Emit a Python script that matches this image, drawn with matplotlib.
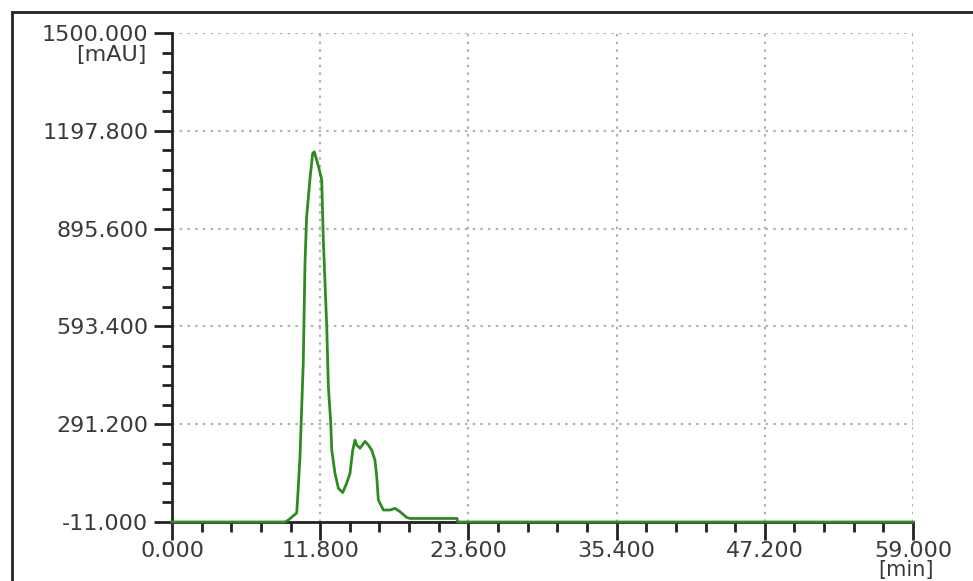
import numpy as np
import matplotlib.pyplot as plt
from matplotlib.patches import Rectangle
from matplotlib.ticker import MultipleLocator, FixedLocator

# retention time [min] and absorbance [mAU]
t = [0.0, 9.0, 9.26, 9.93, 10.0, 10.19, 10.45, 10.59, 10.72, 10.99, 11.2, 11.33, 11.52,
     11.73, 11.92, 12.05, 12.32, 12.45, 12.64, 12.72, 12.98, 13.25, 13.59, 13.91,
     14.17, 14.39, 14.57, 14.7, 14.97, 15.37, 15.63, 15.9, 16.16, 16.3, 16.43,
     16.83, 17.36, 17.75, 18.15, 18.69, 18.95, 22.7, 22.75, 59.0]
mau = [-11, -11, -5, 17, 60, 191, 479, 789, 932, 1051, 1128, 1133, 1108,
       1077, 1046, 860, 593, 408, 294, 211, 139, 93, 80, 109,
       139, 211, 242, 227, 217, 238, 227, 211, 180, 129, 57,
       26, 26, 31, 21, 3, 0, 0, -11, -11]

xticks = [0.0, 11.8, 23.6, 35.4, 47.2, 59.0]
yticks = [-11.0, 291.2, 593.4, 895.6, 1197.8, 1500.0]

fig = plt.figure(figsize=(9.73, 5.81), dpi=100)
ax = fig.add_axes([172/973, 1-522/581, (913-172)/973, (522-33)/581])

ax.plot(t, mau, color='#2f8a22', lw=2, zorder=3, clip_on=False)

ax.set_xlim(0, 59)
ax.set_ylim(-11, 1500)
ax.xaxis.set_major_locator(FixedLocator(xticks))
ax.yaxis.set_major_locator(FixedLocator(yticks))
ax.xaxis.set_minor_locator(MultipleLocator(11.8/5))
ax.yaxis.set_minor_locator(FixedLocator(np.arange(-11, 1500, 302.2/5)))
ax.set_xticklabels(['%.3f' % v for v in xticks])
ax.set_yticklabels(['%.3f' % v for v in yticks])

for s in ['top', 'right']:
    ax.spines[s].set_visible(False)
for s in ['left', 'bottom']:
    ax.spines[s].set_linewidth(2)
    ax.spines[s].set_color('#222222')
ax.tick_params(which='major', length=13, width=2, color='#222222',
               labelsize=16, labelcolor='#3a3a3a')
ax.tick_params(axis='y', which='major', pad=4)
ax.tick_params(axis='x', which='major', pad=1)
ax.tick_params(which='minor', length=7, width=2, color='#222222')
ax.grid(True, which='major', ls=(0, (1.2, 2.5)), color='#b0b0b0', lw=1.5)
ax.set_axisbelow(True)

fig.text(147/973, 1-55/581, '[mAU]', ha='right', va='center', fontsize=16, color='#3a3a3a')
fig.text(906/973, 1-580/581, '[min]', ha='center', va='bottom', fontsize=15, color='#3a3a3a')

fig.patches.append(Rectangle((11.5/973, -0.1), 1.1, 1 - 12.5/581 + 0.1,
                             transform=fig.transFigure, fill=False,
                             edgecolor='#222222', lw=2))

fig.savefig('out.png', dpi=100)
